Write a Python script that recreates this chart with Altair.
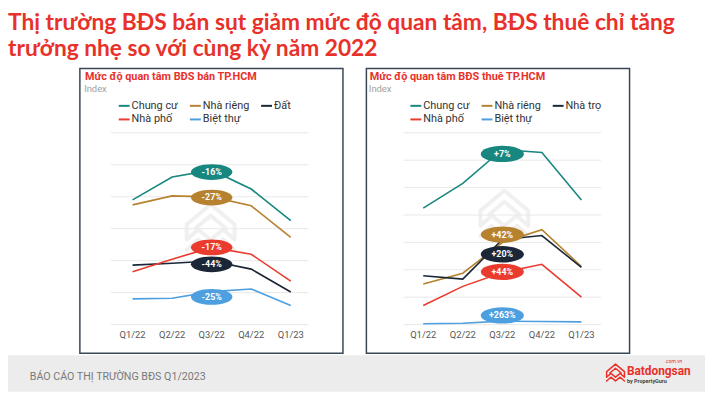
import altair as alt
import pandas as pd

# ---------------- data ----------------
quarters = ["Q1/22", "Q2/22", "Q3/22", "Q4/22", "Q1/23"]

sale_series = ["Chung cư", "Nhà riêng", "Đất", "Nhà phố", "Biệt thự"]
sale_chung_cu = [78.0, 92.3, 96.6, 84.8, 65.0]
sale_nha_rieng = [74.9, 80.5, 79.9, 74.3, 54.5]
sale_dat = [37.2, 38.4, 39.8, 34.7, 20.4]
sale_nha_pho = [33.0, 40.9, 48.3, 44.0, 27.2]
sale_biet_thu = [16.1, 16.5, 20.6, 22.3, 12.0]
sale_labels = ["-16%", "-27%", "-44%", "-17%", "-25%"]
sale_label_y = [95.4, 79.5, 37.7, 48.3, 17.3]

rent_series = ["Chung cư", "Nhà riêng", "Nhà trọ", "Nhà phố", "Biệt thự"]
rent_chung_cu = [85.0, 103.0, 127.8, 125.6, 91.0]
rent_nha_rieng = [29.6, 37.5, 59.9, 69.3, 42.4]
rent_nha_tro = [35.6, 33.2, 62.1, 65.0, 41.7]
rent_nha_pho = [13.9, 27.9, 38.0, 44.0, 20.0]
rent_biet_thu = [0.55, 1.0, 2.5, 2.2, 2.0]
rent_labels = ["+7%", "+42%", "+20%", "+44%", "+263%"]
rent_label_y = [124.6, 65.7, 51.3, 38.5, 6.7]

label_quarter = "Q3/22"
sale_grid = [0, 20, 40, 60, 80, 100, 120]
rent_grid = [0, 20, 40, 60, 80, 100, 120, 140]

main_title = ["Thị trường BĐS bán sụt giảm mức độ quan tâm, BĐS thuê chỉ tăng",
              "trưởng nhẹ so với cùng kỳ năm 2022"]
sale_title = "Mức độ quan tâm BĐS bán TP.HCM"
rent_title = "Mức độ quan tâm BĐS thuê TP.HCM"
unit_text = "Index"
footer_text = "BÁO CÁO THỊ TRƯỜNG BĐS Q1/2023"

palette = ["#17877f", "#b7822f", "#1b2736", "#ea3b2f", "#4d9fe0"]
RED = "#e8312a"
FONT = "Roboto"
ELLIPSE = "M-1,0A1,0.38 0 1,0 1,0A1,0.38 0 1,0 -1,0Z"
LOGO = ("M-0.95,0.55L-0.95,-0.05L0,-0.85L0.95,-0.05L0.95,0.55"
        "M-0.6,0.1L0,-0.4L0.6,0.1"
        "M-0.95,0.55L-0.5,0.15L0,0.55L0.5,0.15L0.95,0.55"
        "M-0.95,0.95L-0.5,0.55L0,0.95L0.5,0.55L0.95,0.95")


def long_df(series, columns):
    rows = []
    for i, (s, vals) in enumerate(zip(series, columns)):
        for q, v in zip(quarters, vals):
            rows.append({"series": s, "quarter": q, "value": v, "order": i})
    return pd.DataFrame(rows)


sale_df = long_df(sale_series, [sale_chung_cu, sale_nha_rieng, sale_dat, sale_nha_pho, sale_biet_thu])
rent_df = long_df(rent_series, [rent_chung_cu, rent_nha_rieng, rent_nha_tro, rent_nha_pho, rent_biet_thu])
sale_lab = pd.DataFrame({"series": sale_series, "label": sale_labels, "value": sale_label_y,
                         "quarter": label_quarter})
rent_lab = pd.DataFrame({"series": rent_series, "label": rent_labels, "value": rent_label_y,
                         "quarter": label_quarter})
one = pd.DataFrame({"k": [0]})


def panel(df, lab, series, grid, ymax, xrange, grid_x, legend_x, esize):
    xs = alt.Scale(type="point", domain=quarters, range=xrange, padding=0.5)
    ys = alt.Scale(domain=[0, ymax], range=[318, 124], nice=False, zero=False)
    cs = alt.Scale(domain=series, range=palette)
    x = alt.X("quarter:N", scale=xs, axis=None)
    gridlines = alt.Chart(pd.DataFrame({"value": grid})).mark_rule(
        color="#e9e9e9", strokeWidth=1
    ).encode(y=alt.Y("value:Q", scale=ys, axis=None),
             x=alt.value(grid_x[0]), x2=alt.value(grid_x[1]))
    xlabels = alt.Chart(pd.DataFrame({"quarter": quarters})).mark_text(
        font=FONT, fontSize=9.5, color="#555555", baseline="middle"
    ).encode(x=x, y=alt.value(329), text="quarter:N")
    lines = alt.Chart(df).mark_line(strokeWidth=1.6).encode(
        x=x,
        y=alt.Y("value:Q", scale=ys, axis=None),
        color=alt.Color("series:N", scale=cs, legend=alt.Legend(
            orient="none", legendX=legend_x, legendY=90, columns=3, direction="horizontal",
            title=None, symbolType="stroke", symbolSize=121, symbolStrokeWidth=2,
            labelFont=FONT, labelFontSize=11, labelColor="#333333",
            labelOffset=1, gridAlign="all", columnPadding=7, rowPadding=2, padding=0)),
        detail="series:N",
        order="order:Q",
    )
    ell = alt.Chart(lab).mark_point(shape=ELLIPSE, filled=True, opacity=1, size=esize).encode(
        x=x, y=alt.Y("value:Q", scale=ys, axis=None),
        color=alt.Color("series:N", scale=cs, legend=None))
    txt = alt.Chart(lab).mark_text(font=FONT, fontSize=9, fontWeight="bold", color="white",
                                   baseline="middle").encode(
        x=x, y=alt.Y("value:Q", scale=ys, axis=None), text="label:N")
    return alt.layer(gridlines, xlabels, lines, ell, txt)


def rect(x1, x2, y1, y2, **kw):
    return alt.Chart(one).mark_rect(**kw).encode(
        x=alt.value(x1), x2=alt.value(x2), y=alt.value(y1), y2=alt.value(y2))


def text(t, x, y, **kw):
    kw.setdefault("align", "left")
    return alt.Chart(pd.DataFrame({"t": [t]})).mark_text(baseline="middle", **kw).encode(
        x=alt.value(x), y=alt.value(y), text="t:N")


def icon(x, y, size, color, sw):
    return alt.Chart(one).mark_point(shape=LOGO, filled=False, size=size, stroke=color,
                                     strokeWidth=sw, opacity=1, strokeJoin="round",
                                     strokeCap="round").encode(x=alt.value(x), y=alt.value(y))


footer = rect(0, 705, 349, 386, color="#ececec")
box_l = rect(72.7, 338.8, 59, 347, fill="white", stroke="#3b4654", strokeWidth=1.5)
box_r = rect(362.5, 628.7, 59, 347, fill="white", stroke="#3b4654", strokeWidth=1.5)
wm_l = icon(205, 218, 2600, "#f0f0f0", 4)
wm_r = icon(502, 204, 2600, "#f0f0f0", 4)

title1 = text(main_title[0], 0, 13, font="Lato", fontSize=23, fontWeight="bold", color=RED)
title2 = text(main_title[1], 0, 39, font="Lato", fontSize=23, fontWeight="bold", color=RED)
st_l = text(sale_title, 78, 68, font=FONT, fontSize=11, fontWeight="bold", color=RED)
st_r = text(rent_title, 366, 68, font=FONT, fontSize=11, fontWeight="bold", color=RED)
ix_l = text(unit_text, 77, 80, font=FONT, fontSize=9.5, color="#a0a0a0")
ix_r = text(unit_text, 365, 80, font=FONT, fontSize=9.5, color="#a0a0a0")
ft = text(footer_text, 22, 371, font=FONT, fontSize=10.8, color="#7a7a7a")
logo_icon = icon(614.5, 366, 360, RED, 1.5)
logo_name = text("Batdongsan", 626, 365, font=FONT, fontSize=12, fontWeight="bold", color=RED)
logo_dom = text(".com.vn", 682, 355, align="right", font=FONT, fontSize=5, color=RED)
logo_by = text("by PropertyGuru", 626, 375, font=FONT, fontSize=5.5, fontWeight="bold", color="#444444")

left = panel(sale_df, sale_lab, sale_series, sale_grid, 120, [106, 306], (104, 304), 111, 1764)
right = panel(rent_df, rent_lab, rent_series, rent_grid, 140, [400, 600], (400, 600), 406, 1900)

chart = alt.layer(
    footer, box_l, box_r, wm_l, wm_r, title1, title2, st_l, st_r, ix_l, ix_r, ft,
    logo_icon, logo_name, logo_dom, logo_by, left, right
).resolve_scale(x="independent", y="independent", color="independent").properties(
    width=705, height=386, autosize=alt.AutoSizeParams(type="none"), padding=0,
    background="white"
).configure_view(stroke=None)

chart.save("out.html", embed_options={"renderer": "svg", "actions": False})
